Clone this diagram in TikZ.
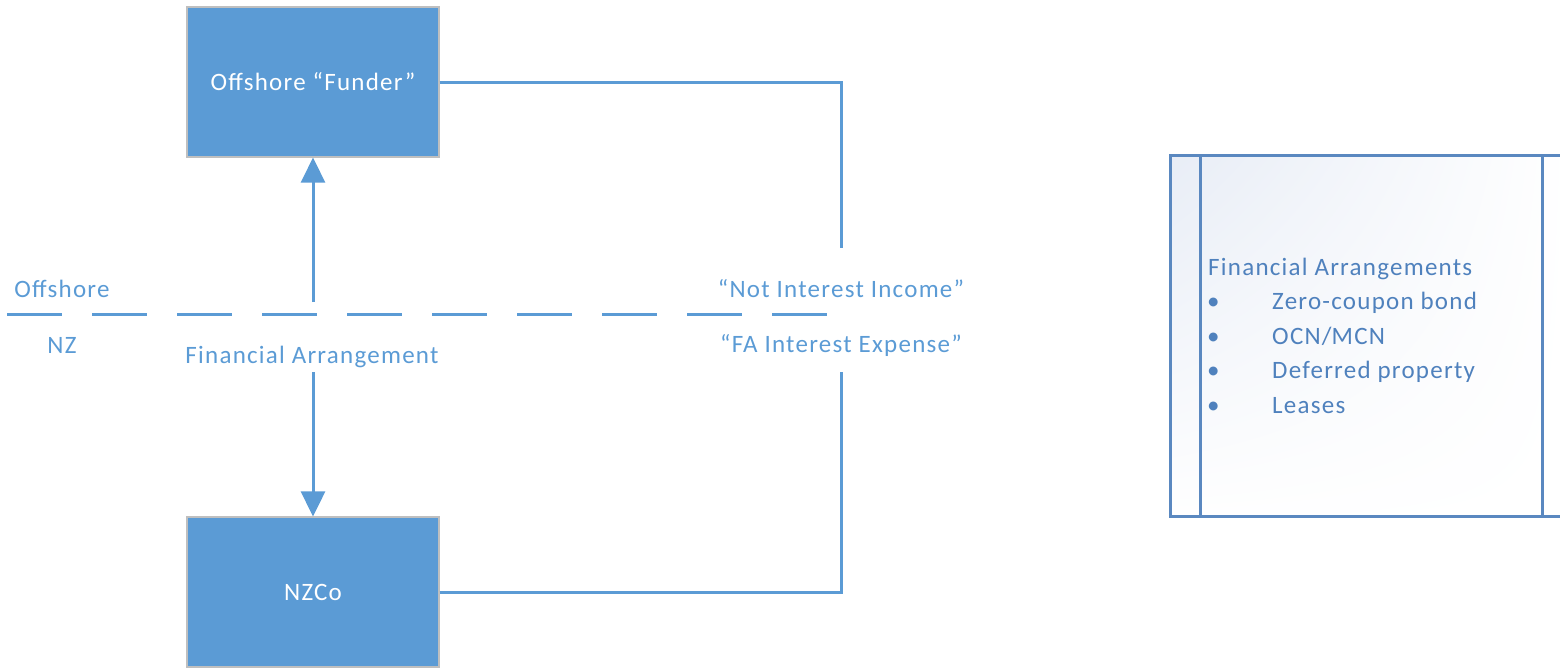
\documentclass[tikz,border=0pt]{standalone}
\usepackage{fontspec}
\setmainfont{Carlito}[LetterSpace=5]
\usetikzlibrary{arrows.meta,shadings}
\definecolor{flow}{HTML}{5B9BD5}
\definecolor{panelline}{HTML}{5A88C0}
\definecolor{paneltext}{HTML}{4F81BD}
\definecolor{panelfill}{HTML}{E8EDF6}
\tikzset{
  entity/.style={rectangle, fill=flow, draw=black!25, line width=1.2pt,
    minimum width=252pt, minimum height=150pt, inner sep=0pt,
    text=white, font=\fontsize{25}{30}\selectfont},
  flowline/.style={draw=flow, line width=3pt},
  flowarrow/.style={flowline, -{Triangle[width=24pt,length=25pt]}},
  label/.style={text=flow, inner sep=0pt, anchor=base, font=\fontsize{25}{30}\selectfont},
  paneltxt/.style={text=paneltext, inner sep=0pt, anchor=base west, font=\fontsize{25}{30}\selectfont}
}
\begin{document}
\begin{tikzpicture}[x=1pt,y=-1pt]
\useasboundingbox (0,0) rectangle (1560,667);

% parties
\node[entity] (funder) at (313,82) {Offshore “Funder”};
\node[entity] (nzco) at (313,592) {NZCo};

% jurisdiction boundary
\draw[flowline, dash pattern=on 55pt off 30pt] (7,314) -- (828,314);
\node[label] (offshore) at (62,297) {Offshore};
\node[label] (nz) at (62,353) {NZ};

% financial arrangement flows
\coordinate (faup) at (313,302);
\coordinate (fadown) at (313,372);
\draw[flowarrow] (faup) -- (funder.south);
\draw[flowarrow] (fadown) -- (nzco.north);
\node[label] (fa) at (312,363) {Financial Arrangement};

% treatment loop
\coordinate (loopup) at (841,248);
\coordinate (loopdown) at (841,372);
\draw[flowline] (funder.east) -| (loopup);
\draw[flowline] (nzco.east) -| (loopdown);
\node[label] (income) at (841,297) {“Not Interest Income”};
\node[label] (expense) at (841,352) {“FA Interest Expense”};

% side panel
\shade[upper left=panelfill, upper right=white, lower left=white!96!panelfill, lower right=white]
  (1170,155) rectangle (1570,516);
\draw[draw=panelline, line width=3pt] (1170,155) rectangle (1570,516);
\draw[draw=panelline, line width=3pt] (1200,155) -- (1200,516);
\draw[draw=panelline, line width=3pt] (1542,155) -- (1542,516);
\node[paneltxt] (fahead) at (1208,275) {Financial Arrangements};
\foreach \y/\t [count=\i] in {309/Zero-coupon bond, 344/OCN\slash MCN, 378/Deferred property, 413/Leases} {
  \node[paneltxt] (dot\i) at (1207,\y) {•};
  \node[paneltxt] (item\i) at (1272,\y) {\t};
}
\end{tikzpicture}
\end{document}
